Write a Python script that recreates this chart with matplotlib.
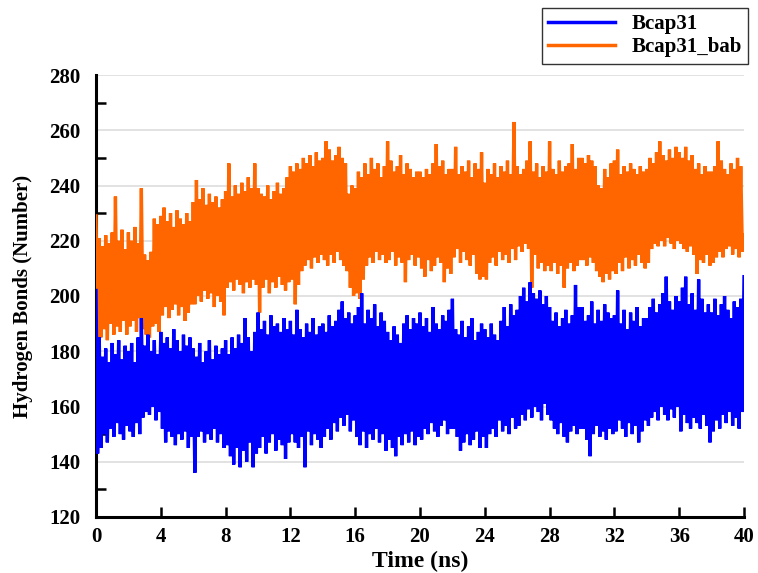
import matplotlib
matplotlib.use("Agg")
import matplotlib.pyplot as plt
import numpy as np
from matplotlib.ticker import MultipleLocator

# Time axis (ns): samples every 0.1 ns from 0 to 40
time_ns = np.linspace(0, 40, 401)

# Bcap31 hydrogen bond counts (2 ns per row)
bcap31 = [
    202, 143, 185, 145, 178, 150, 181, 147, 176, 152, 183, 149, 179, 154, 184, 150, 177, 148, 182, 153,
    180, 151, 183, 149, 176, 154, 185, 150, 192, 156, 182, 158, 186, 157, 180, 160, 184, 155, 179, 158,
    187, 152, 183, 147, 185, 151, 181, 149, 188, 146, 184, 150, 180, 148, 186, 151, 182, 145, 185, 149,
    181, 136, 178, 149, 183, 151, 176, 147, 180, 150, 184, 148, 177, 152, 182, 147, 179, 150, 181, 145,
    184, 146, 179, 142, 185, 139, 181, 145, 186, 138, 183, 144, 192, 140, 185, 147, 180, 138, 187, 143,
    194, 145, 188, 149, 191, 143, 186, 147, 193, 150, 189, 144, 190, 148, 187, 146, 192, 141, 188, 147,
    191, 150, 186, 147, 195, 145, 188, 149, 185, 138, 190, 151, 187, 146, 192, 150, 186, 148, 189, 145,
    190, 149, 187, 152, 193, 148, 189, 154, 191, 151, 195, 156, 198, 153, 192, 157, 194, 151, 190, 155,
    193, 149, 196, 146, 201, 151, 190, 145, 195, 150, 192, 148, 197, 152, 189, 147, 194, 150, 191, 144,
    187, 148, 184, 145, 189, 142, 186, 149, 183, 146, 190, 150, 193, 147, 188, 151, 192, 146, 190, 149,
    194, 148, 189, 152, 192, 150, 187, 154, 196, 151, 190, 149, 188, 153, 193, 155, 191, 150, 195, 152,
    199, 152, 188, 149, 186, 144, 191, 147, 185, 150, 189, 146, 192, 148, 184, 151, 187, 145, 190, 149,
    188, 145, 185, 150, 190, 152, 186, 149, 184, 155, 191, 151, 196, 153, 189, 150, 197, 156, 193, 152,
    195, 153, 200, 157, 203, 155, 198, 159, 205, 156, 201, 160, 199, 158, 202, 155, 197, 161, 200, 157,
    196, 155, 191, 152, 194, 150, 189, 154, 192, 149, 195, 147, 190, 151, 193, 153, 204, 150, 196, 152,
    196, 152, 191, 148, 193, 142, 198, 150, 190, 153, 195, 149, 191, 151, 197, 148, 194, 152, 192, 150,
    193, 151, 202, 155, 190, 152, 195, 149, 188, 154, 194, 150, 191, 153, 196, 147, 189, 151, 192, 155,
    192, 153, 196, 156, 199, 158, 194, 155, 197, 160, 201, 157, 207, 155, 198, 159, 195, 156, 200, 160,
    198, 151, 203, 157, 207, 154, 197, 152, 201, 156, 195, 154, 206, 152, 199, 157, 194, 153, 197, 147,
    194, 151, 199, 155, 193, 152, 197, 157, 200, 154, 195, 158, 192, 153, 198, 156, 196, 152, 199, 158,
    207,
]

# Bcap31_bab hydrogen bond counts (2 ns per row)
bcap31_bab = [
    229, 183, 221, 185, 218, 188, 222, 184, 219, 190, 223, 186, 236, 189, 220, 187, 224, 191, 217, 186,
    223, 189, 220, 191, 225, 187, 219, 192, 239, 188, 215, 186, 213, 185, 216, 189, 228, 190, 226, 187,
    229, 193, 232, 196, 227, 192, 230, 195, 225, 197, 231, 193, 228, 196, 226, 191, 230, 194, 227, 197,
    234, 197, 242, 200, 235, 198, 239, 202, 233, 199, 237, 201, 234, 196, 236, 200, 232, 198, 235, 193,
    238, 203, 248, 205, 236, 202, 240, 206, 237, 204, 241, 201, 238, 205, 243, 203, 239, 206, 248, 204,
    239, 194, 237, 203, 236, 206, 240, 201, 235, 205, 238, 203, 241, 207, 237, 204, 239, 202, 243, 205,
    247, 206, 245, 197, 248, 204, 246, 209, 250, 211, 248, 213, 251, 210, 247, 214, 252, 212, 249, 215,
    250, 213, 256, 211, 253, 215, 249, 212, 251, 216, 254, 213, 250, 211, 248, 209, 237, 203, 240, 200,
    239, 201, 245, 199, 243, 206, 248, 211, 244, 214, 250, 212, 246, 216, 248, 213, 243, 215, 247, 212,
    256, 213, 249, 216, 245, 211, 247, 214, 251, 212, 244, 205, 248, 213, 246, 215, 243, 211, 245, 214,
    245, 210, 243, 207, 246, 213, 244, 209, 248, 211, 255, 214, 247, 212, 249, 205, 244, 210, 246, 208,
    246, 214, 254, 217, 244, 212, 247, 216, 245, 213, 249, 211, 243, 215, 248, 208, 246, 206, 252, 207,
    241, 206, 246, 212, 244, 214, 248, 211, 243, 216, 247, 213, 245, 215, 249, 212, 244, 217, 263, 213,
    247, 218, 244, 216, 246, 219, 249, 217, 256, 203, 245, 215, 248, 210, 243, 212, 247, 209, 245, 211,
    256, 209, 246, 212, 244, 208, 249, 211, 245, 203, 247, 210, 248, 212, 255, 209, 246, 211, 250, 213,
    250, 213, 248, 211, 251, 214, 249, 212, 247, 209, 240, 207, 239, 205, 246, 208, 243, 206, 248, 209,
    249, 208, 253, 212, 244, 209, 247, 214, 245, 210, 248, 213, 246, 211, 244, 215, 247, 212, 245, 210,
    246, 212, 250, 217, 248, 219, 252, 218, 256, 220, 251, 218, 249, 221, 253, 219, 250, 217, 254, 220,
    252, 219, 250, 217, 254, 216, 249, 218, 251, 215, 246, 208, 248, 213, 244, 212, 247, 215, 245, 211,
    245, 212, 247, 214, 256, 216, 249, 214, 246, 217, 244, 218, 248, 215, 246, 217, 250, 214, 247, 216,
    222,
]

series_names = ["Bcap31", "Bcap31_bab"]
series_colors = ["#0000FF", "#FF6600"]
x_ticks = list(range(0, 41, 4))
y_ticks = list(range(120, 281, 20))

serif = ["Liberation Serif", "DejaVu Serif"]
plt.rcParams["font.family"] = serif

fig = plt.figure(figsize=(7.58, 5.73), dpi=100)
ax = fig.add_axes([96 / 758, 56 / 573, 648 / 758, 442 / 573])

l2, = ax.plot(time_ns, bcap31_bab, color=series_colors[1], lw=2.4, zorder=3,
              label=series_names[1], solid_joinstyle="miter")
l1, = ax.plot(time_ns, bcap31, color=series_colors[0], lw=2.4, zorder=4,
              label=series_names[0], solid_joinstyle="miter")

ax.set_xlim(0, 40)
ax.set_ylim(120, 280)
ax.set_xticks(x_ticks)
ax.set_yticks(y_ticks)
ax.yaxis.set_minor_locator(MultipleLocator(20, offset=10))
ax.yaxis.grid(True, which="major", color="#dddddd", lw=1.2, zorder=0)
ax.set_axisbelow(True)

for s in ["top", "right"]:
    ax.spines[s].set_visible(False)
ax.spines["left"].set_linewidth(2.2)
ax.spines["bottom"].set_linewidth(2.2)

ax.tick_params(axis="y", which="major", length=0, pad=11, labelsize=15)
ax.tick_params(axis="y", which="minor", direction="in", length=7, width=1.8)
ax.tick_params(axis="x", which="major", direction="in", length=7, width=1.8,
               pad=7, labelsize=15)
for lab in ax.get_xticklabels() + ax.get_yticklabels():
    lab.set_fontweight("bold")

ax.set_xlabel("Time (ns)", fontsize=17, fontweight="bold", labelpad=3)
ax.set_ylabel("Hydrogen Bonds (Number)", fontsize=15, fontweight="bold",
              labelpad=12)

leg = fig.legend(handles=[l1, l2], loc="upper right",
                 bbox_to_anchor=(748 / 758, 1 - 8 / 573),
                 bbox_transform=fig.transFigure,
                 frameon=True, fancybox=False, edgecolor="black",
                 prop={"family": serif, "weight": "bold", "size": 15},
                 handlelength=3.2, borderpad=0.3, labelspacing=0.15,
                 handletextpad=0.8, borderaxespad=0)
leg.get_frame().set_linewidth(1.0)
for h in leg.get_lines():
    h.set_linewidth(2.5)

fig.savefig("out.png", dpi=100)
